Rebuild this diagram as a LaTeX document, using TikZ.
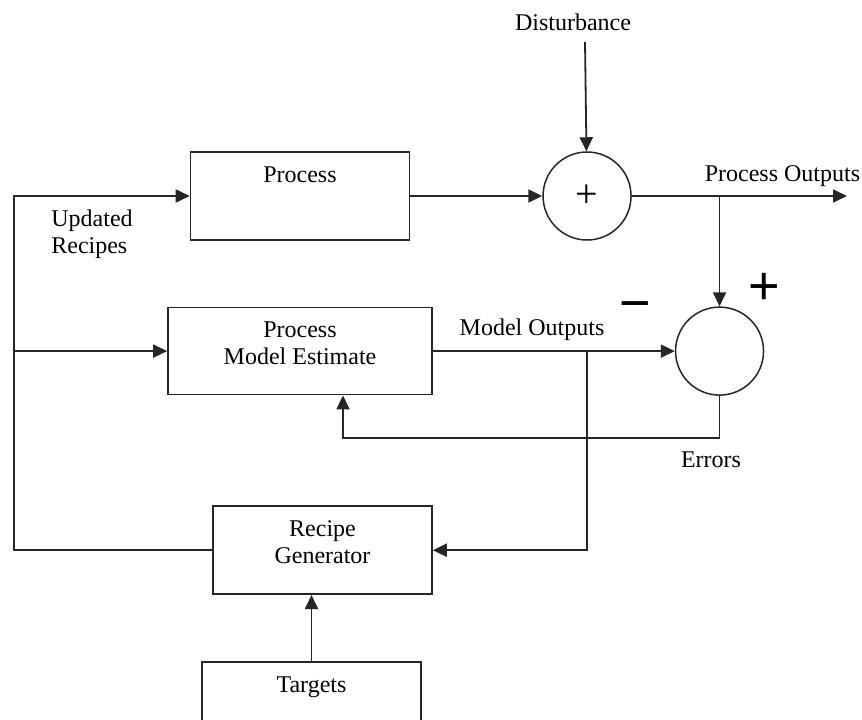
\documentclass[tikz,border=0pt]{standalone}
\usepackage{fontspec}
\setmainfont{Liberation Serif}
\newfontfamily\signfont{Liberation Sans}
\usetikzlibrary{positioning, arrows.meta}

\begin{document}
\begin{tikzpicture}[x=1pt, y=-1pt,
      font=\fontsize{24}{27}\selectfont,
      node distance=66pt and 132pt,
      block/.style={rectangle, draw=black!85, line width=1.6pt, align=center, inner sep=0pt, text depth=16pt, minimum width=219pt, minimum height=88pt},
      sum/.style={circle, draw=black!85, line width=1.5pt, inner sep=0pt, minimum size=88pt, font=\fontsize{40}{40}\selectfont},
      sign/.style={inner sep=0pt, font=\signfont\fontsize{54}{54}\selectfont},
      lbl/.style={inner sep=0pt},
      flow/.style={draw=black!85, line width=1.8pt, -{Triangle[length=14pt, width=13pt]}}]
      \useasboundingbox (0,0) rectangle (862,720);
      \clip (0,0) rectangle (862,720);

      \node[block] (process) at (300,196) {Process\\~};
      \node[block, minimum width=264pt, minimum height=87pt] (model) [below=of process] {Process\\Model Estimate};
      \node[block] (recipe) [below=110pt of model.south east, anchor=north east] {Recipe\\Generator};
      \node[block] (targets) [below=of recipe, xshift=-11pt] {Targets\\~};
      \node[sum] (sum1) [right=of process] {+};
      \node[sum] (sum2) [right=242pt of model] {};

      \node (dist) at (573,22) {Disturbance};
      \node[lbl, align=left] (updated) at (92,234) {Updated\\Recipes};
      \node[lbl] (errors) at (711,460) {Errors};
      \node[sign] (minus) at (635.5,312) {−};
      \node[sign] (plus) at (764,289) {+};

      \coordinate (distin) at (585,42);
      \coordinate (outend) at (847,196);
      \coordinate (rail) at (14,0);
      \coordinate (fb) at (343,438);

      \draw[flow] (distin) -- (sum1);
      \draw[flow] (process) -- (sum1);
      \draw[flow] (sum1) -- (outend) node [pos=0.7, above=5pt] {Process Outputs};
      \draw[flow] (sum1 -| sum2) -- (sum2);
      \draw[flow] (model) -- (sum2) node [pos=0.41, above=6pt] {Model Outputs};
      \draw[flow] (sum2) |- (fb) -- (fb |- model.south);
      \draw[flow] (model.east -| sum1) |- (recipe);
      \draw[flow] (recipe) -| (rail |- process) -- (process);
      \draw[flow] (rail |- model) -- (model);
      \draw[flow] (targets.north) -- (targets.north |- recipe.south);
\end{tikzpicture}
\end{document}
